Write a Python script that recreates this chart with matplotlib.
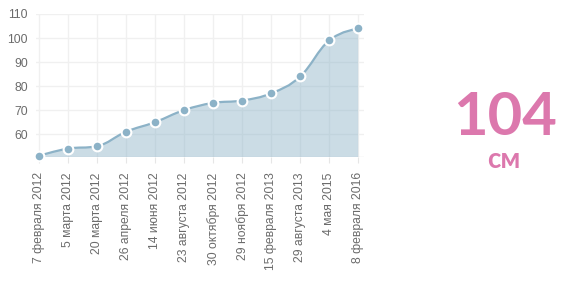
import matplotlib.pyplot as plt
from matplotlib.path import Path
from matplotlib.patches import PathPatch

# рост ребёнка, см
dates = ["7 февраля 2012", "5 марта 2012", "20 марта 2012", "26 апреля 2012",
         "14 июня 2012", "23 августа 2012", "30 октября 2012", "29 ноября 2012",
         "15 февраля 2013", "29 августа 2013", "4 мая 2015", "8 февраля 2016"]
heights = [51, 54, 55, 61, 65, 70, 73, 74, 77, 84, 99, 104]
yticks = [60, 70, 80, 90, 100, 110]
current = "104"
unit = "см"

line_color = '#8cb2c7'
text_color = '#6b6b6b'
pink = '#dc78ad'
ymin, ymax = 50.5, 110


# сглаживание как в highcharts spline
def controls(xs, ys, i, s=1.5):
    x, y = xs[i], ys[i]
    lx, ly = xs[i - 1], ys[i - 1]
    nx, ny = xs[i + 1], ys[i + 1]
    lcx, lcy = (s * x + lx) / (s + 1), (s * y + ly) / (s + 1)
    rcx, rcy = (s * x + nx) / (s + 1), (s * y + ny) / (s + 1)
    corr = (rcy - lcy) * (rcx - x) / (rcx - lcx) + y - rcy
    lcy += corr
    rcy += corr
    if lcy > ly and lcy > y:
        lcy = max(ly, y); rcy = 2 * y - lcy
    elif lcy < ly and lcy < y:
        lcy = min(ly, y); rcy = 2 * y - lcy
    if rcy > ny and rcy > y:
        rcy = max(ny, y); lcy = 2 * y - rcy
    elif rcy < ny and rcy < y:
        rcy = min(ny, y); lcy = 2 * y - rcy
    return (lcx, lcy), (rcx, rcy)


xs = list(range(len(heights)))
n = len(xs)
left = [None] * n
right = [None] * n
for i in range(n):
    if i == 0 or i == n - 1:
        left[i] = right[i] = (xs[i], heights[i])
    else:
        left[i], right[i] = controls(xs, heights, i)

verts = [(xs[0], heights[0])]
codes = [Path.MOVETO]
for i in range(1, n):
    verts += [right[i - 1], left[i], (xs[i], heights[i])]
    codes += [Path.CURVE4] * 3

fill_verts = verts + [(xs[-1], ymin), (xs[0], ymin), (xs[0], heights[0])]
fill_codes = codes + [Path.LINETO, Path.LINETO, Path.CLOSEPOLY]

fig = plt.figure(figsize=(5.72, 2.81), dpi=100)
ax = fig.add_axes([36 / 572, 1 - 157 / 281, 328 / 572, 143 / 281])

ax.add_patch(PathPatch(Path(fill_verts, fill_codes), facecolor=line_color,
                       alpha=0.45, edgecolor='none', zorder=2))
ax.add_patch(PathPatch(Path(verts, codes), facecolor='none',
                       edgecolor=line_color, lw=1.6, zorder=3))
ax.plot(xs, heights, 'o', ms=7, mfc=line_color, mec='white', mew=1.5,
        zorder=4, clip_on=False)

ax.set_xlim(-0.1, 11.2)
ax.set_ylim(ymin, ymax)
ax.set_xticks(xs)
ax.set_xticklabels(dates, rotation=90, fontsize=8.7, color=text_color,
                   family='Liberation Sans')
ax.set_yticks(yticks)
ax.set_yticklabels([str(v) for v in yticks], fontsize=8.7, color=text_color,
                   family='Liberation Sans')
ax.tick_params(axis='x', length=4, color='#e6e6e6', pad=7)
ax.tick_params(axis='y', length=0, pad=6)
ax.grid(True, color='#f0f0f0', lw=1, zorder=0)
ax.set_axisbelow(True)
for s in ax.spines.values():
    s.set_visible(False)
ax.axhline(ymin, color='#e6e6e6', lw=1, zorder=1)

fig.text(505 / 572, 1 - 118 / 281, current, color=pink, fontsize=43,
         fontweight='bold', family='Lato', ha='center', va='center')
fig.text(504 / 572, 1 - 160 / 281, unit, color=pink, fontsize=20,
         fontweight='bold', family='Lato', ha='center', va='center')

fig.savefig('out.png', dpi=100)
